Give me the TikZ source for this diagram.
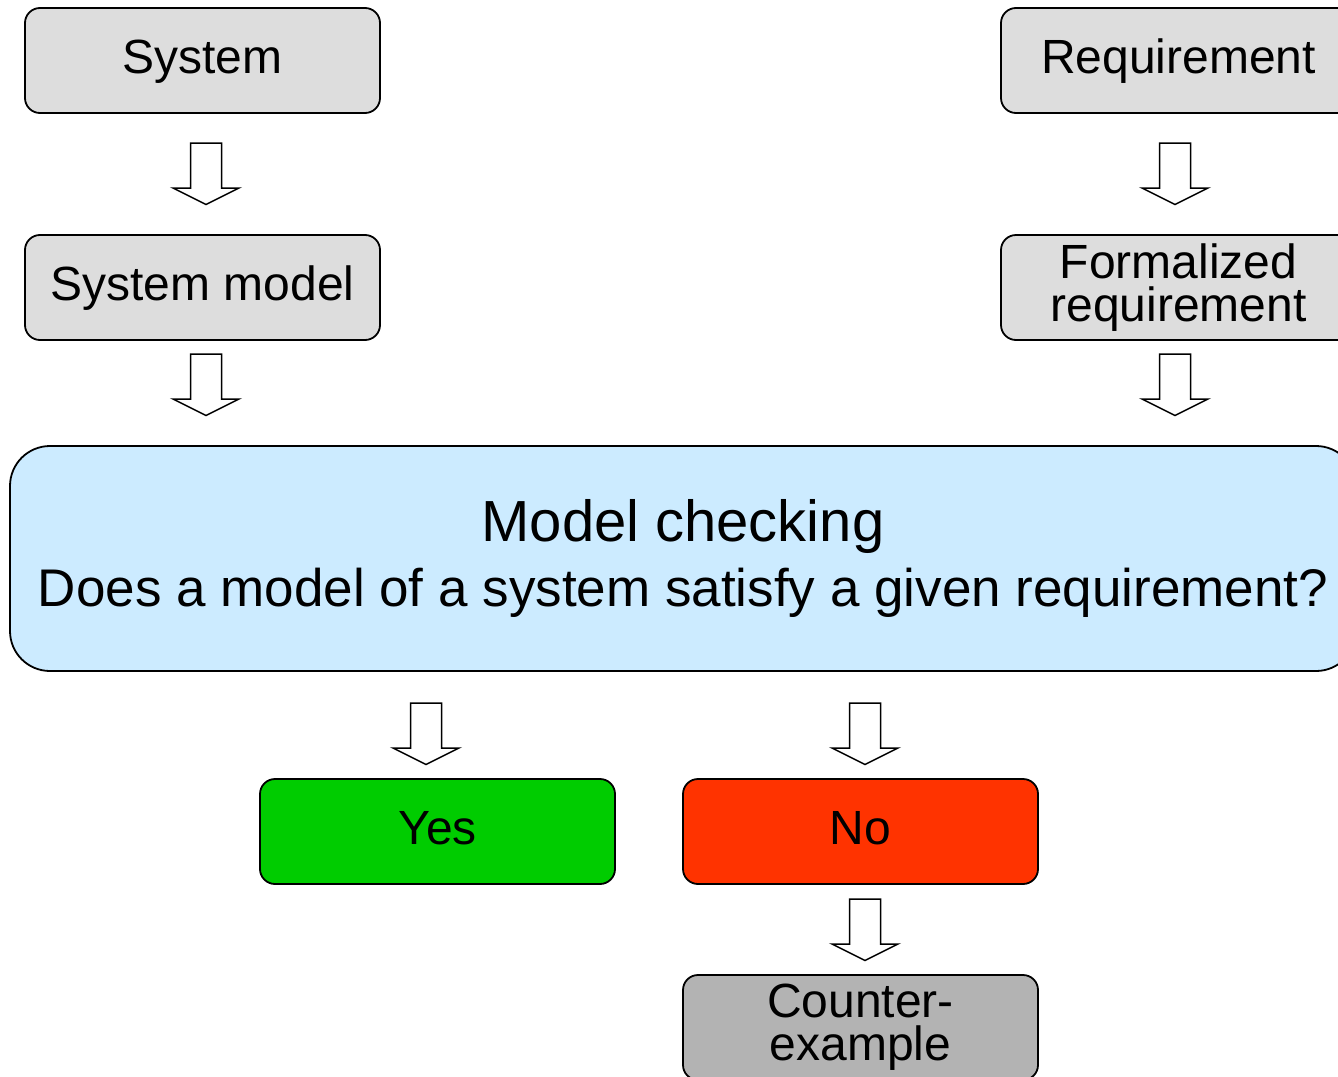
\documentclass[tikz,border=0pt]{standalone}
\usepackage{fontspec}
\setmainfont{Liberation Sans}
\usetikzlibrary{calc}
\definecolor{boxgray}{HTML}{DDDDDD}
\definecolor{mcblue}{HTML}{CCEBFF}
\definecolor{yesgreen}{HTML}{00CC00}
\definecolor{nored}{HTML}{FF3300}
\definecolor{cegray}{HTML}{B3B3B3}
\begin{document}
\begin{tikzpicture}[x=1pt,y=-1pt,
  box/.style={draw=black, line width=1.8pt, rounded corners=15pt, minimum width=355pt, minimum height=105pt, inner sep=0pt, outer sep=0pt, font=\fontsize{48}{43}\selectfont},
  oneline/.style={text height=35pt, text depth=10pt},
  twoline/.style={align=center},
  blockarrow/.style={draw=black, fill=white, line width=1.5pt, line join=miter},
  downarrow/.pic={\path[blockarrow] (-15.5,0) -- (15.5,0) -- (15.5,45) -- (33,45) -- (0,61.5) -- (-33,45) -- (-15.5,45) -- cycle;}
]
\useasboundingbox (0,0) rectangle (1338,1076);
\clip (0,0) rectangle (1338,1076);

\node[box, fill=boxgray, oneline] (sys) at (202.5,60.5) {System};
\node[box, fill=boxgray, oneline] (req) at (1178.5,60.5) {Requirement};
\node[box, fill=boxgray, oneline] (sysm) at (202.5,287.5) {System model};
\node[box, fill=boxgray, twoline] (freq) at (1178.5,287.5) {Formalized\\requirement};

\node[draw=black, line width=1.8pt, fill=mcblue, rounded corners=40pt, minimum width=1346pt, minimum height=225pt, inner sep=0pt, outer sep=0pt, align=center, font=\fontsize{58}{65}\selectfont] (mc) at (683,558.5) {Model checking\\{\fontsize{53}{65}\selectfont Does a model of a system satisfy a given requirement?}};

\node[box, fill=yesgreen, oneline] (yes) at (437.5,831.5) {Yes};
\node[box, fill=nored, oneline] (no) at (860.5,831.5) {No};
\node[box, fill=cegray, twoline] (ce) at (860.5,1027.5) {Counter-\\example};

\pic at (206,143) {downarrow};
\pic at (206,354) {downarrow};
\pic at (1175,143) {downarrow};
\pic at (1175,354) {downarrow};
\pic at (426,703) {downarrow};
\pic at (865,703) {downarrow};
\pic at (865,899) {downarrow};
\end{tikzpicture}
\end{document}
